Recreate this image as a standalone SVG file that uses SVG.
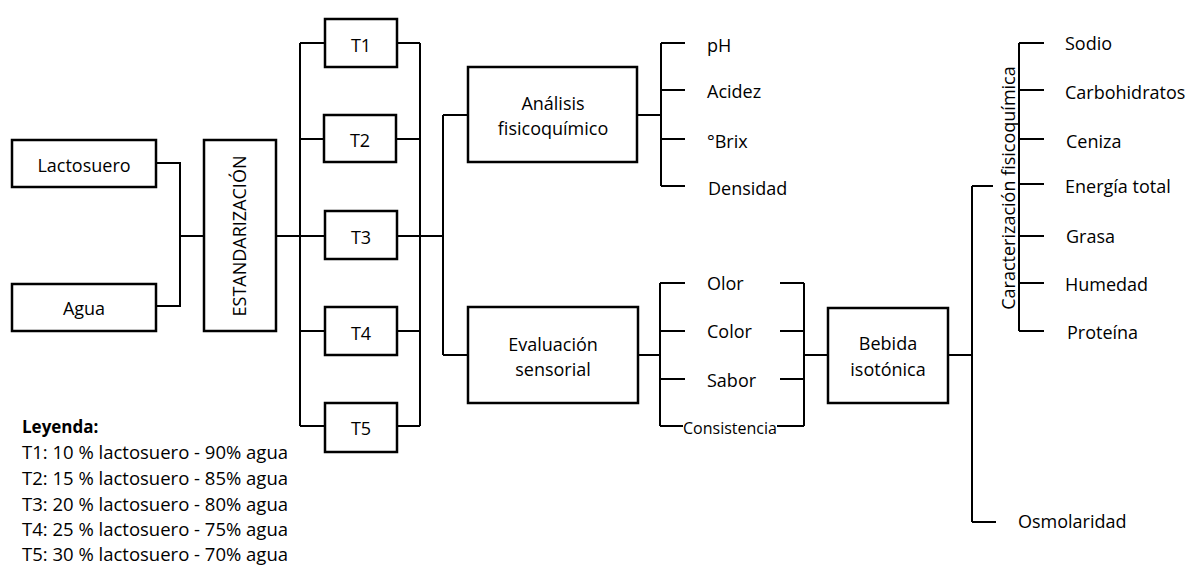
<svg xmlns="http://www.w3.org/2000/svg" width="1190" height="566" viewBox="0 0 1190 566">
<style>
.box{fill:#fff;stroke:#000;stroke-width:2.5}
.ln{fill:none;stroke:#000;stroke-width:2}
text{font-family:"Open Sans","Noto Sans","Liberation Sans",sans-serif;font-size:18px;fill:#000}
.c{text-anchor:middle}
.sm{font-size:16px}
.b{font-weight:bold;font-size:17px}
.lg{font-size:18.5px}
</style>
<rect width="1190" height="566" fill="#fff"/>
<g id="connectors">
<path class="ln" d="M156 163H180V306H156M180 236H204"/>
<path class="ln" d="M276 236H325M300 43V426M300 43H325M300 139H325M300 331H325M300 426H325"/>
<path class="ln" d="M397 43H420M397 139H420M397 331H420M397 426H420M420 43V426M397 236H443"/>
<path class="ln" d="M443 115V355M443 115H468M443 355H468"/>
<path class="ln" d="M637 115H661M661 43V186M661 43H685M661 90H685M661 139H685M661 186H685"/>
<path class="ln" d="M638 355H660M660 283V426M660 283H685M660 331H685M660 379H685M660 426H683"/>
<path class="ln" d="M780 283H804M780 331H804M780 379H804M777 426H804M804 283V426M804 355H828"/>
<path class="ln" d="M948 355H972M972 186V522M972 186H993M972 522H996"/>
<path class="ln" d="M1019 43V331M1019 43H1044M1019 90H1044M1019 139H1044M1019 184H1044M1019 236H1044M1019 283H1044M1019 331H1044"/>
</g>
<g id="lactosuero"><rect class="box" x="12" y="140" width="144" height="47"/><text class="c" x="84" y="172">Lactosuero</text></g>
<g id="agua"><rect class="box" x="12" y="284" width="144" height="47"/><text class="c" x="84" y="315">Agua</text></g>
<g id="estandarizacion"><rect class="box" x="204" y="140" width="72" height="191"/><text class="c" transform="translate(246,236) rotate(-90)" x="0" y="0">ESTANDARIZACIÓN</text></g>
<g id="t1"><rect class="box" x="325" y="19" width="72" height="48"/><text class="c" x="361" y="52">T1</text></g>
<g id="t2"><rect class="box" x="324" y="115" width="72" height="47"/><text class="c" x="360" y="147">T2</text></g>
<g id="t3"><rect class="box" x="325" y="211" width="72" height="48"/><text class="c" x="361" y="244">T3</text></g>
<g id="t4"><rect class="box" x="325" y="307" width="72" height="48"/><text class="c" x="361" y="340">T4</text></g>
<g id="t5"><rect class="box" x="325" y="403" width="72" height="49"/><text class="c" x="361" y="435">T5</text></g>
<g id="analisis"><rect class="box" x="468" y="67" width="169" height="95"/><text class="c" x="553" y="110">Análisis</text><text class="c" x="553" y="135">fisicoquímico</text></g>
<g id="evaluacion"><rect class="box" x="468" y="307" width="170" height="96"/><text class="c" x="553" y="351">Evaluación</text><text class="c" x="553" y="376">sensorial</text></g>
<g id="bebida"><rect class="box" x="828" y="308" width="120" height="95"/><text class="c" x="888" y="350">Bebida</text><text class="c" x="888" y="376">isotónica</text></g>
<g id="fq-items">
<text x="707" y="52">pH</text>
<text x="707" y="98">Acidez</text>
<text x="707" y="148">°Brix</text>
<text x="708" y="195">Densidad</text>
</g>
<g id="sens-items">
<text x="707" y="290">Olor</text>
<text x="707" y="338">Color</text>
<text x="707" y="387">Sabor</text>
<text class="sm" x="683" y="434">Consistencia</text>
</g>
<g id="caracterizacion">
<text class="c" transform="translate(1015,188) rotate(-90)" x="0" y="0">Caracterización fisicoquímica</text>
<text x="1065" y="50">Sodio</text>
<text x="1065" y="99">Carbohidratos</text>
<text x="1066" y="148">Ceniza</text>
<text x="1065" y="193">Energía total</text>
<text x="1066" y="243">Grasa</text>
<text x="1065" y="291">Humedad</text>
<text x="1067" y="339">Proteína</text>
</g>
<g id="osmolaridad"><text x="1018" y="528">Osmolaridad</text></g>
<g id="leyenda">
<text class="b" x="22" y="433">Leyenda:</text>
<text class="lg" x="22" y="459">T1: 10 % lactosuero - 90% agua</text>
<text class="lg" x="22" y="485">T2: 15 % lactosuero - 85% agua</text>
<text class="lg" x="22" y="511">T3: 20 % lactosuero - 80% agua</text>
<text class="lg" x="22" y="536">T4: 25 % lactosuero - 75% agua</text>
<text class="lg" x="22" y="561">T5: 30 % lactosuero - 70% agua</text>
</g>
</svg>
